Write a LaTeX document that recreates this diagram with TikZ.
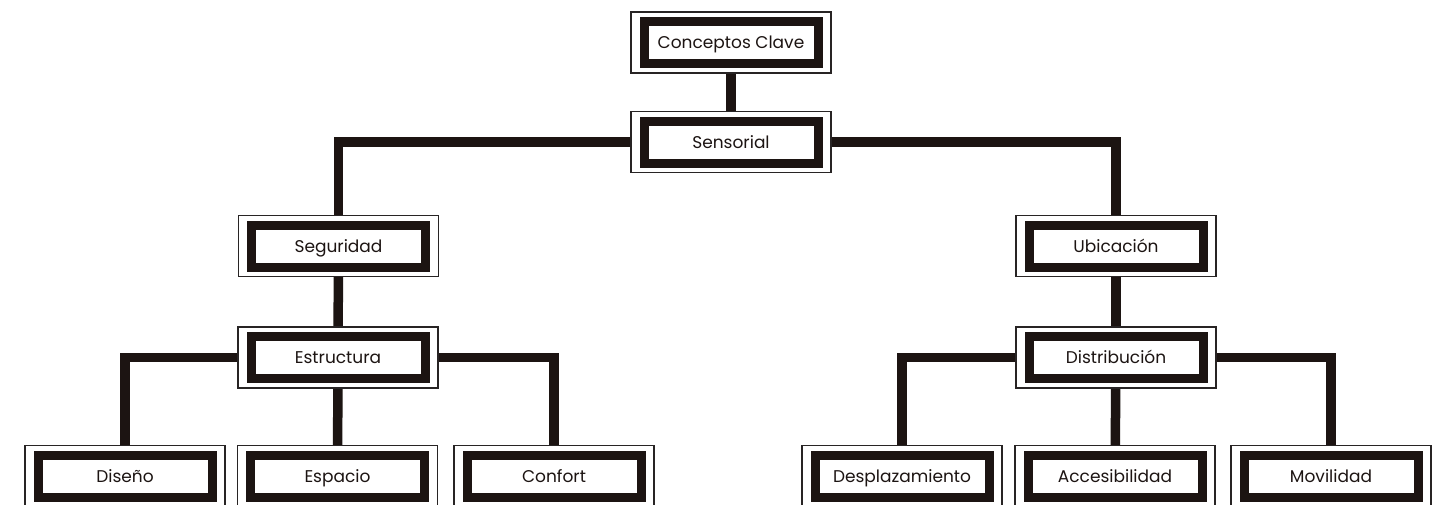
\documentclass[tikz,border=0pt]{standalone}
\usepackage{fontspec}
\setmainfont{Poppins}
\usetikzlibrary{backgrounds}
\definecolor{ink}{RGB}{28,20,18}
\definecolor{frame}{RGB}{40,36,36}
\begin{document}
\begin{tikzpicture}[x=1pt,y=-1pt,
  cbox/.style={draw=frame, line width=1.3pt, fill=white, minimum width=200pt, minimum height=61pt,
    inner sep=0pt, text height=15pt, text depth=3pt, font=\fontsize{17}{20}\selectfont, text=ink,
    path picture={\draw[ink, line width=9pt]
      ([xshift=13pt,yshift=-9.5pt]path picture bounding box.north west) rectangle
      ([xshift=-13pt,yshift=9.5pt]path picture bounding box.south east);}},
  link/.style={draw=ink, line width=9.5pt, line join=miter}]
\useasboundingbox (0,0) rectangle (1444,504);
\node[cbox] (cc) at (731,42.5) {Conceptos Clave};
\node[cbox] (sen) at (731,142) {Sensorial};
\node[cbox] (seg) at (338.5,246) {Seguridad};
\node[cbox] (ubi) at (1116,246) {Ubicación};
\node[cbox] (est) at (338,357.5) {Estructura};
\node[cbox] (dis) at (1116,357.5) {Distribución};
\node[cbox] (dse) at (125,476) {Diseño};
\node[cbox] (esp) at (337.5,476) {Espacio};
\node[cbox] (con) at (554,476) {Confort};
\node[cbox] (des) at (902,476) {Desplazamiento};
\node[cbox] (acc) at (1115,476) {Accesibilidad};
\node[cbox] (mov) at (1331,476) {Movilidad};
\begin{scope}[on background layer]
\fill[white] (0,0) rectangle (1444,504);
\draw[link] (cc) -- (sen);
\draw[link] (sen.west) -| (seg.north);
\draw[link] (sen.east) -| (ubi.north);
\draw[link] (seg) -- (est);
\draw[link] (ubi) -- (dis);
\draw[link] (est.west) -| (dse.north);
\draw[link] (est) -- (esp);
\draw[link] (est.east) -| (con.north);
\draw[link] (dis.west) -| (des.north);
\draw[link] (dis) -- (acc);
\draw[link] (dis.east) -| (mov.north);
\end{scope}
\end{tikzpicture}
\end{document}
